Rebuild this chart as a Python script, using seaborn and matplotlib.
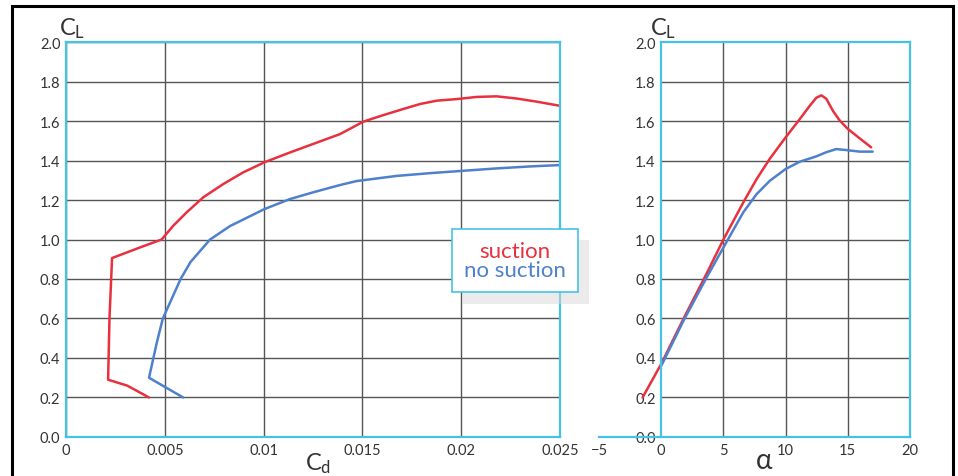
import pandas as pd
import matplotlib.pyplot as plt
import seaborn as sns
from matplotlib.lines import Line2D
from matplotlib.patches import Rectangle

# --- data ---
# drag polar (Cd, CL)
cd_suction = [0.0042, 0.0031, 0.00213, 0.0022, 0.00233, 0.00375, 0.00484, 0.00543, 0.00611,
              0.00695, 0.00796, 0.00897, 0.01004, 0.01134, 0.01251, 0.01387, 0.01505, 0.01606,
              0.01707, 0.01791, 0.01876, 0.01977, 0.02078, 0.02179, 0.0228, 0.02382, 0.025]
cl_suction_polar = [0.20, 0.26, 0.29, 0.60, 0.906, 0.96, 1.00, 1.07, 1.138,
                    1.214, 1.281, 1.340, 1.391, 1.441, 1.484, 1.534, 1.597, 1.630,
                    1.661, 1.686, 1.703, 1.711, 1.722, 1.725, 1.714, 1.698, 1.677]
cd_nosuction = [0.00593, 0.0042, 0.0046, 0.0049, 0.0058, 0.0063, 0.00729, 0.0083, 0.01004,
                0.01134, 0.01251, 0.01387, 0.01471, 0.01673, 0.01842, 0.0201, 0.02179,
                0.02348, 0.025]
cl_nosuction_polar = [0.20, 0.30, 0.48, 0.60, 0.80, 0.886, 1.00, 1.068, 1.154,
                      1.205, 1.239, 1.276, 1.296, 1.322, 1.336, 1.348, 1.360,
                      1.370, 1.377]

# lift curve (alpha, CL)
alpha_suction = [-1.5, 0.0, 1.8, 3.67, 5.0, 6.6, 7.67, 8.74, 10.0, 11.14, 11.94,
                 12.47, 12.87, 13.27, 13.8, 14.34, 15.0, 15.94, 16.87]
cl_suction_lift = [0.20, 0.37, 0.60, 0.83, 1.00, 1.188, 1.306, 1.41, 1.517, 1.61, 1.677,
                   1.718, 1.73, 1.713, 1.652, 1.603, 1.56, 1.513, 1.467]
alpha_nosuction = [0.0, 1.8, 3.67, 4.47, 5.54, 6.6, 7.67, 8.74, 10.0, 11.14, 12.47,
                   13.27, 14.07, 14.87, 15.94, 17.0]
cl_nosuction_lift = [0.36, 0.59, 0.81, 0.90, 1.02, 1.138, 1.23, 1.298, 1.357, 1.394, 1.421,
                     1.442, 1.458, 1.453, 1.445, 1.445]

labels = ['suction', 'no suction']
cl_ticks = [0.0, 0.2, 0.4, 0.6, 0.8, 1.0, 1.2, 1.4, 1.6, 1.8, 2.0]
cd_ticks = [0, 0.005, 0.01, 0.015, 0.02, 0.025]
cd_ticklabels = ['0', '0.005', '0.01', '0.015', '0.02', '0.025']
alpha_ticks = [-5, 0, 5, 10, 15, 20]

polar = pd.concat([
    pd.DataFrame({'Cd': cd_suction, 'CL': cl_suction_polar, 'case': labels[0]}),
    pd.DataFrame({'Cd': cd_nosuction, 'CL': cl_nosuction_polar, 'case': labels[1]}),
])
lift = pd.concat([
    pd.DataFrame({'alpha': alpha_suction, 'CL': cl_suction_lift, 'case': labels[0]}),
    pd.DataFrame({'alpha': alpha_nosuction, 'CL': cl_nosuction_lift, 'case': labels[1]}),
])

# --- style ---
RED = '#e8303f'
BLUE = '#4f80cc'
CYAN = '#45c3e6'
GRID = '#555555'
palette = {labels[0]: RED, labels[1]: BLUE}

sns.set_theme(style='white')
plt.rcParams['font.family'] = ['Lato', 'DejaVu Sans']
plt.rcParams['mathtext.default'] = 'regular'

fig = plt.figure(figsize=(9.58, 4.77), dpi=100)
ax1 = fig.add_axes([0.0689, 0.0818, 0.5157, 0.828])
ax2 = fig.add_axes([0.6253, 0.0818, 0.3246, 0.828])

# --- left: drag polar ---
sns.lineplot(data=polar, x='Cd', y='CL', hue='case', palette=palette, sort=False,
             estimator=None, legend=False, lw=1.8, ax=ax1, zorder=3)
ax1.set_xlim(0, 0.025)
ax1.set_ylim(0, 2.0)
ax1.set_xticks(cd_ticks, cd_ticklabels)
ax1.set_yticks(cl_ticks, [f'{v:.1f}' for v in cl_ticks])
ax1.grid(True, color=GRID, lw=1.0)
ax1.set_xlabel('')
ax1.set_ylabel('')
ax1.text(0.012, 1.005, r'$C_L$', transform=ax1.transAxes, ha='center', va='bottom',
         fontsize=17, color='#333333')
ax1.text(0.51, -0.035, r'$C_d$', transform=ax1.transAxes, ha='center', va='top',
         fontsize=17, color='#333333')

handles = [Line2D([], [], color=RED, lw=0), Line2D([], [], color=BLUE, lw=0)]
leg = ax1.legend(handles, labels, loc='center', bbox_to_anchor=(0.909, 0.446),
                 handlelength=0, handletextpad=0, labelcolor=[RED, BLUE], fontsize=16,
                 frameon=True, fancybox=False, framealpha=1, edgecolor=CYAN,
                 borderpad=0.55, labelspacing=-0.05,
                 shadow={'ox': 8, 'oy': -8, 'facecolor': '#d9d9d9', 'edgecolor': 'none'})
leg.get_frame().set_linewidth(1.2)
leg._legend_handle_box.get_children()[0].align = 'center'
leg.set_zorder(5)

# --- right: lift curve ---
sns.lineplot(data=lift, x='alpha', y='CL', hue='case', palette=palette, sort=False,
             estimator=None, legend=False, lw=1.8, ax=ax2, zorder=3)
ax2.set_xlim(-5, 20)
ax2.set_ylim(0, 2.0)
ax2.set_xticks(alpha_ticks)
ax2.set_yticks(cl_ticks, [f'{v:.1f}' for v in cl_ticks])
ax2.set_xlabel('')
ax2.set_ylabel('')
ax2.spines['left'].set_position(('data', 0))
ax2.spines['top'].set_bounds(0, 20)
# grid only inside the 0..20 box
ax2.hlines(cl_ticks[1:-1], 0, 20, color=GRID, lw=1.0, zorder=1)
ax2.vlines(alpha_ticks[2:-1], 0, 2.0, color=GRID, lw=1.0, zorder=1)
ax2.text(0.206, 1.005, r'$C_L$', transform=ax2.transAxes, ha='center', va='bottom',
         fontsize=17, color='#333333')
ax2.text(0.53, -0.025, r'$\alpha$', transform=ax2.transAxes, ha='center', va='top',
         fontsize=20, color='#333333')

for ax in (ax1, ax2):
    for sp in ax.spines.values():
        sp.set_color(CYAN)
        sp.set_linewidth(1.6)
        sp.set_zorder(4)
    ax.tick_params(length=0, labelsize=10.5, labelcolor='#333333', pad=4)

# black frame around the figure
fig.add_artist(Rectangle((0.0125, -0.05), 0.9823, 1.0353, transform=fig.transFigure,
                         fill=False, edgecolor='black', lw=2.2))

fig.savefig('out.png', dpi=100)
